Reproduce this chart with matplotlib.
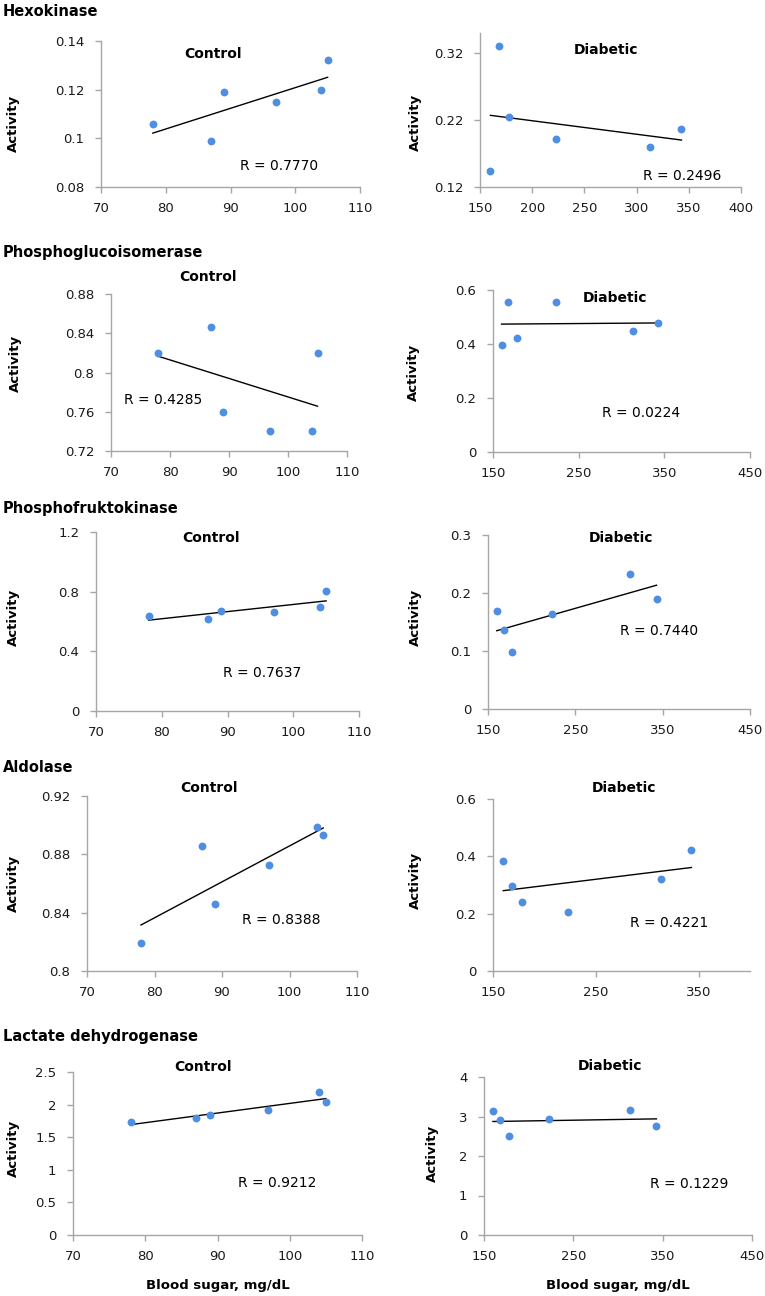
import numpy as np
import matplotlib
matplotlib.use('Agg')
import matplotlib.pyplot as plt
from matplotlib.ticker import FuncFormatter

plt.rcParams['font.family'] = ['DejaVu Sans']

# Blood sugar, mg/dL
control_sugar = [78, 87, 89, 97, 104, 105]
diabetic_sugar = [160, 168, 178, 223, 313, 343]

# Activity
hk_control = [0.106, 0.099, 0.119, 0.115, 0.120, 0.132]
hk_diabetic = [0.144, 0.330, 0.2245, 0.191, 0.180, 0.207]
pgi_control = [0.820, 0.846, 0.760, 0.740, 0.740, 0.820]
pgi_diabetic = [0.396, 0.554, 0.423, 0.554, 0.449, 0.476]
pfk_control = [0.637, 0.619, 0.673, 0.661, 0.697, 0.807]
pfk_diabetic = [0.169, 0.137, 0.099, 0.164, 0.233, 0.190]
ald_control = [0.819, 0.886, 0.846, 0.873, 0.899, 0.893]
ald_diabetic = [0.382, 0.298, 0.240, 0.205, 0.321, 0.423]
ldh_control = [1.735, 1.80, 1.837, 1.913, 2.194, 2.04]
ldh_diabetic = [3.13, 2.91, 2.495, 2.926, 3.17, 2.765]

enzymes = ['Hexokinase', 'Phosphoglucoisomerase', 'Phosphofruktokinase',
           'Aldolase', 'Lactate dehydrogenase']
r_control = ['R = 0.7770', 'R = 0.4285', 'R = 0.7637', 'R = 0.8388', 'R = 0.9212']
r_diabetic = ['R = 0.2496', 'R = 0.0224', 'R = 0.7440', 'R = 0.4221', 'R = 0.1229']

W, H = 765, 1296
fig = plt.figure(figsize=(W / 100, H / 100), dpi=100)

dot = '#4F8FE3'
grey = '#A6A6A6'


def box(l, t, r, b):
    return [l / W, 1 - b / H, (r - l) / W, (b - t) / H]


def panel(rect, x, y, xlim, xticks, ylim, yticks, name, r_text, r_pos,
          name_pos, ylab_pos, xlabel=False):
    ax = fig.add_axes(box(*rect))
    ax.scatter(x, y, s=32, color=dot, zorder=3, linewidths=0)
    # linear trend line
    k, c = np.polyfit(x, y, 1)
    xs = np.array([min(x), max(x)])
    ax.plot(xs, k * xs + c, color='black', lw=1, zorder=2)
    ax.set_xlim(*xlim)
    ax.set_ylim(*ylim)
    ax.set_xticks(xticks)
    ax.set_yticks(yticks)
    ax.yaxis.set_major_formatter(FuncFormatter(lambda v, p: f'{v:g}'))
    for s in ['top', 'right']:
        ax.spines[s].set_visible(False)
    for s in ['left', 'bottom']:
        ax.spines[s].set_color(grey)
        ax.spines[s].set_linewidth(1)
    ax.tick_params(direction='out', length=4, width=1, color=grey,
                   labelsize=9.5, labelcolor='#1a1a1a')
    ax.tick_params(axis='y', pad=8)
    ax.tick_params(axis='x', pad=7)
    ax.text(r_pos[0], r_pos[1], r_text, fontsize=10, ha='center', va='center')
    fig.text(name_pos[0] / W, 1 - name_pos[1] / H, name, fontsize=10,
             fontweight='bold', ha='center', va='center')
    ax.set_ylabel('Activity', fontsize=9.5, fontweight='bold')
    ax.yaxis.set_label_coords(ylab_pos[0] / W, 1 - ylab_pos[1] / H,
                              transform=fig.transFigure)
    if xlabel:
        ax.set_xlabel('Blood sugar, mg/dL', fontsize=9.5, fontweight='bold',
                      va='center')
        ax.xaxis.set_label_coords((rect[0] + rect[2]) / 2 / W,
                                  1 - 1286 / H, transform=fig.transFigure)
    return ax


cx = [70, 80, 90, 100, 110]

# Hexokinase
panel((101, 41, 360, 187), control_sugar, hk_control, (70, 110), cx,
      (0.08, 0.14), [0.08, 0.10, 0.12, 0.14], 'Control', r_control[0],
      (97.5, 0.0885), (213, 54), (20, 123))
panel((480, 33, 741, 187), diabetic_sugar, hk_diabetic, (150, 400),
      [150, 200, 250, 300, 350, 400], (0.12, 0.35), [0.12, 0.22, 0.32],
      'Diabetic', r_diabetic[0], (343.5, 0.137), (606, 50), (422, 122))

# Phosphoglucoisomerase
panel((111, 294, 347, 451), control_sugar, pgi_control, (70, 110), cx,
      (0.72, 0.88), [0.72, 0.76, 0.80, 0.84, 0.88], 'Control', r_control[1],
      (78.9, 0.7715), (208, 277), (22, 363))
panel((493, 290, 750, 452), diabetic_sugar, pgi_diabetic, (150, 450),
      [150, 250, 350, 450], (0, 0.6), [0, 0.2, 0.4, 0.6],
      'Diabetic', r_diabetic[1], (323, 0.146), (615, 298), (420, 372))

# Phosphofruktokinase
panel((96, 532, 359, 711), control_sugar, pfk_control, (70, 110), cx,
      (0, 1.2), [0, 0.4, 0.8, 1.2], 'Control', r_control[2],
      (95.2, 0.255), (211, 538), (20, 617))
panel((488, 535, 750, 709), diabetic_sugar, pfk_diabetic, (150, 450),
      [150, 250, 350, 450], (0, 0.3), [0, 0.1, 0.2, 0.3],
      'Diabetic', r_diabetic[2], (346, 0.1337), (621, 538), (422, 617))

# Aldolase
panel((87, 796, 357, 971), control_sugar, ald_control, (70, 110), cx,
      (0.8, 0.92), [0.80, 0.84, 0.88, 0.92], 'Control', r_control[3],
      (98.8, 0.8347), (209, 788), (20, 883))
panel((493, 799, 750, 971), diabetic_sugar, ald_diabetic, (150, 400),
      [150, 250, 350], (0, 0.6), [0, 0.2, 0.4, 0.6],
      'Diabetic', r_diabetic[3], (321, 0.169), (624, 788), (422, 880))

# Lactate dehydrogenase
panel((73, 1072, 362, 1235), control_sugar, ldh_control, (70, 110), cx,
      (0, 2.5), [0, 0.5, 1, 1.5, 2, 2.5], 'Control', r_control[4],
      (98.2, 0.80), (203, 1067), (20, 1148), xlabel=True)
panel((484, 1077, 752, 1235), diabetic_sugar, ldh_diabetic, (150, 450),
      [150, 250, 350, 450], (0, 4), [0, 1, 2, 3, 4],
      'Diabetic', r_diabetic[4], (380, 1.285), (610, 1066), (439, 1153),
      xlabel=True)

title_y = [11, 252, 508, 768, 1036]
for name, ty in zip(enzymes, title_y):
    fig.text(3 / W, 1 - ty / H, name, fontsize=10.5, fontweight='bold',
             ha='left', va='center')

fig.savefig('out.png', dpi=100)
